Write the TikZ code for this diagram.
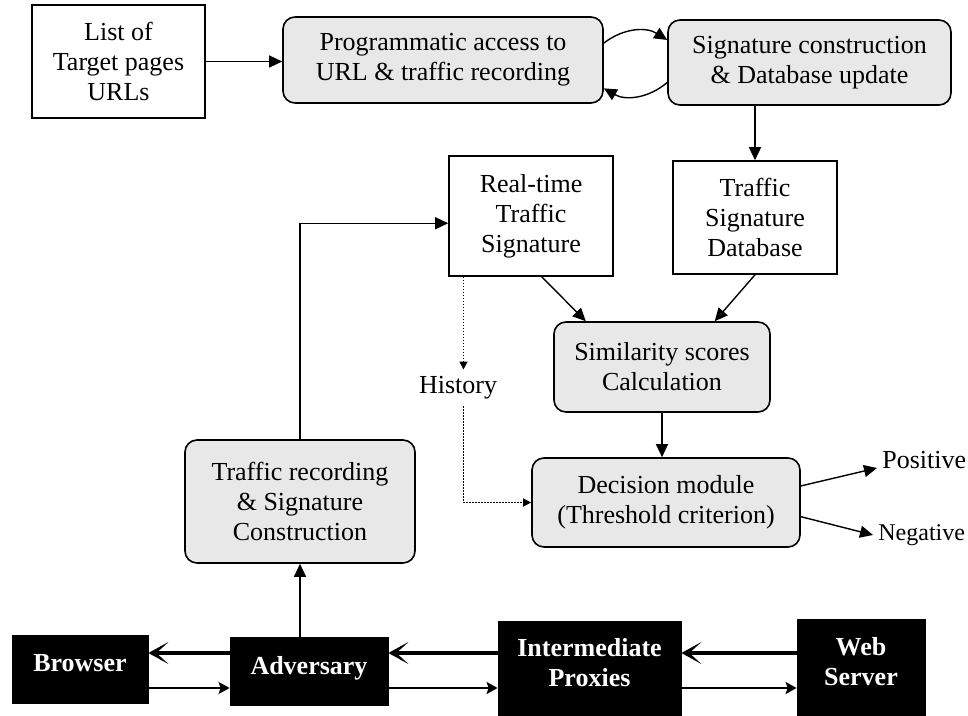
\documentclass[tikz,border=0pt]{standalone}
\usepackage{fontspec}
\setmainfont{Liberation Serif}
\usepackage{tikz}
\usetikzlibrary{positioning,shapes,arrows.meta}
\definecolor{BoxGray}{HTML}{E8E8E8}
\tikzstyle{PlainBox}=[rectangle, draw=black, line width=0.8pt, align=center, inner sep=0pt]
\tikzstyle{GrayBox}=[PlainBox, rounded corners=6pt, fill=BoxGray]
\tikzstyle{BlackBox}=[rectangle, fill=black, draw=black, text=white, align=center, inner sep=0pt, text depth=6pt, font=\bfseries\fontsize{13}{15}\selectfont]
\tikzstyle{Conn}=[line width=0.7pt, -{Triangle[length=6.5pt,width=6pt]}]
\tikzstyle{HistConn}=[line width=0.6pt, dash pattern=on 0.6pt off 0.9pt, -{Triangle[length=4pt,width=4pt]}]
\tikzstyle{BackFlow}=[line width=2pt, -{Stealth[length=10pt,width=11pt,inset=6pt]}]
\tikzstyle{FwdFlow}=[line width=1pt, -{Stealth[length=5.5pt,width=6pt,inset=1pt]}]

\begin{document}
\begin{tikzpicture}[x=0.5pt, y=-0.5pt, font=\fontsize{13}{15}\selectfont]
      \useasboundingbox (0,0) rectangle (968,716);
      \node[PlainBox, minimum width=86.5pt, minimum height=56.5pt] (list) at (118.5,61.5) {List of\\Target pages\\URLs};
      \node[GrayBox, minimum width=160pt, minimum height=43pt] (prog) at (443,60) {Programmatic access to\\URL \& traffic recording};
      \node[GrayBox, minimum width=141.5pt, minimum height=42.5pt] (sig) at (809.5,62.5) {Signature construction\\\& Database update};
      \node[PlainBox, minimum width=82pt, minimum height=60pt] (rts) at (531,216) {Real-time\\Traffic\\Signature};
      \node[PlainBox, minimum width=82pt, minimum height=56.5pt] (tsd) at (755,217.5) {Traffic\\Signature\\Database};
      \node[GrayBox, minimum width=108pt, minimum height=45pt] (sim) at (662,367) {Similarity scores\\Calculation};
      \node[GrayBox, minimum width=134pt, minimum height=44.5pt] (dec) at (666,502.5) {Decision module\\(Threshold criterion)};
      \node[GrayBox, minimum width=115pt, minimum height=61.5pt] (trs) at (300,501.5) {Traffic recording\\\& Signature\\Construction};
      \node (hist) at (458,388) {History};
      \node[anchor=west, inner sep=2.5pt] (pos) at (877,460) {Positive};
      \node[anchor=west, inner sep=2.5pt, font=\fontsize{12}{14}\selectfont] (neg) at (873,535) {Negative};
      \node[BlackBox, minimum width=68pt, minimum height=34pt] (browser) at (80,669) {Browser};
      \node[BlackBox, minimum width=79pt, minimum height=34pt] (adv) at (309,671) {Adversary};
      \node[BlackBox, minimum width=91.5pt, minimum height=47.5pt] (proxy) at (589.5,668.5) {Intermediate\\Proxies};
      \node[BlackBox, minimum width=64pt, minimum height=48.5pt] (server) at (861,667.5) {Web\\Server};
      \coordinate (hi) at (0,653);
      \coordinate (lo) at (0,688);
      \draw[Conn] (list.east) -- (list.east -| prog.west);
      \draw[Conn] (prog.6) to[bend left=35] (sig.171);
      \draw[Conn] (sig.-172) to[bend left=35] (prog.-10);
      \draw[Conn] (tsd.north |- sig.south) -- (tsd.north);
      \draw[Conn] (rts.-80) -- (sim.149);
      \draw[Conn] (tsd.south) -- (sim.41);
      \draw[Conn] (sim.south) -- (sim.south |- dec.north);
      \draw[Conn] (dec.7) -- ([yshift=-4pt]pos.west);
      \draw[Conn] (dec.-6) -- (neg.west);
      \draw[HistConn] (rts.-138) -- (rts.-138 |- hist.north);
      \draw[HistConn] (hist.south -| rts.-138) |- (dec.west);
      \draw[Conn] (trs.north) |- (rts.-175);
      \draw[Conn] (trs.south |- adv.north) -- (trs.south);
      \draw[BackFlow] (adv.west |- hi) -- (browser.east |- hi);
      \draw[FwdFlow] (browser.east |- lo) -- (adv.west |- lo);
      \draw[BackFlow] (proxy.west |- hi) -- (adv.east |- hi);
      \draw[FwdFlow] (adv.east |- lo) -- (proxy.west |- lo);
      \draw[BackFlow] (server.west |- hi) -- (proxy.east |- hi);
      \draw[FwdFlow] (proxy.east |- lo) -- (server.west |- lo);
\end{tikzpicture}
\end{document}
